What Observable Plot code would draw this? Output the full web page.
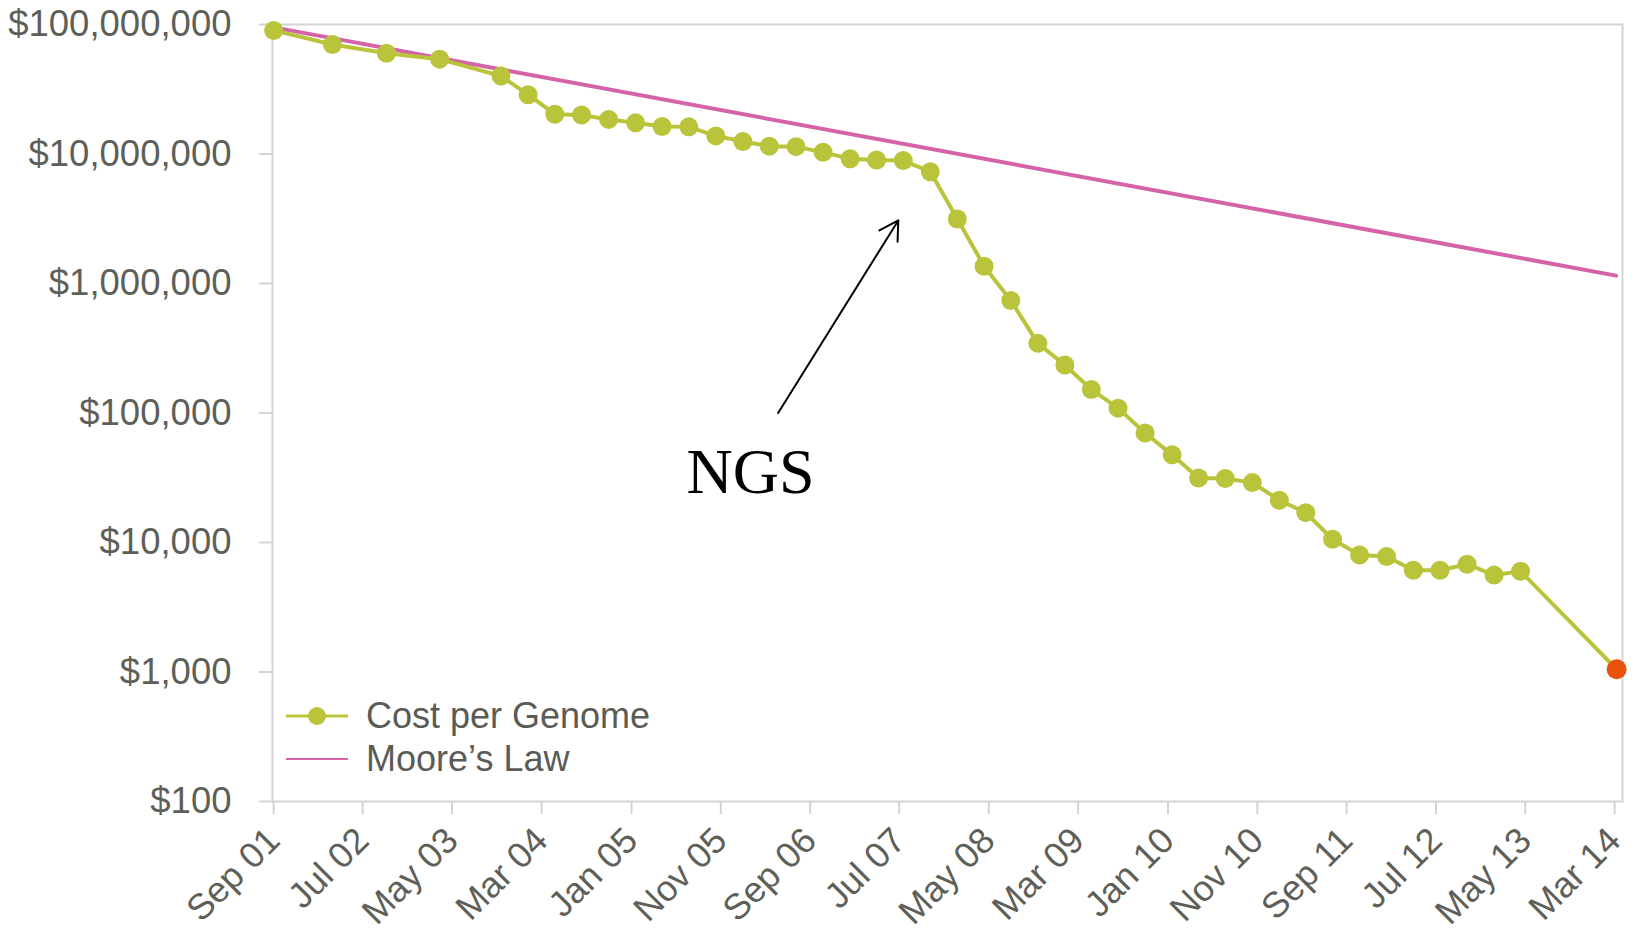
<!DOCTYPE html>
<html>
<head>
<meta charset="utf-8">
<script src="https://cdn.jsdelivr.net/npm/d3@7"></script>
<script src="https://cdn.jsdelivr.net/npm/@observablehq/plot@0.6"></script>
<style>
  html, body { margin: 0; padding: 0; background: #fff; }
  #wrap { position: relative; width: 1645px; height: 932px; }
  #wrap svg { display: block; }
  g[aria-label="y-axis tick"], g[aria-label="x-axis tick"] { stroke: #d4d4d0; stroke-width: 2px; }
  .legend { position: absolute; left: 286px; top: 694px; font-family: "Liberation Sans", Arial, sans-serif; font-size: 36px; color: #5b5b56; }
  .legend .row { display: flex; align-items: center; height: 43px; }
  .legend svg { margin-right: 18px; }
</style>
</head>
<body>
<div id="wrap"></div>
<script>
// ---- data ----
const costDates = [
  "2001-09-01","2002-03-20","2002-09-20","2003-03-20","2003-10-15",
  "2004-01-15","2004-04-15","2004-07-15","2004-10-15",
  "2005-01-15","2005-04-15","2005-07-15","2005-10-15",
  "2006-01-15","2006-04-15","2006-07-15","2006-10-15",
  "2007-01-15","2007-04-15","2007-07-15","2007-10-15",
  "2008-01-15","2008-04-15","2008-07-15","2008-10-15",
  "2009-01-15","2009-04-15","2009-07-15","2009-10-15",
  "2010-01-15","2010-04-15","2010-07-15","2010-10-15",
  "2011-01-15","2011-04-15","2011-07-15","2011-10-15",
  "2012-01-15","2012-04-15","2012-07-15","2012-10-15",
  "2013-01-15","2013-04-15","2014-03-08"
];
const costValues = [
  90000000, 70000000, 60000000, 54000000, 40000000,
  28700000, 20300000, 20000000, 18500000,
  17400000, 16300000, 16200000, 13800000,
  12500000, 11500000, 11400000, 10300000,
  9200000, 9000000, 8900000, 7300000,
  3150000, 1360000, 740000, 345000,
  235000, 152000, 109000, 70000,
  47500, 31500, 31200, 29000,
  21200, 17000, 10600, 8000,
  7800, 6100, 6100, 6800,
  5600, 6000, 1050
];
const mooreDates = ["2001-09-01", "2014-03-06"];
const mooreValues = [95000000, 1150000];

const yTicks = [100, 1000, 10000, 100000, 1000000, 10000000, 100000000];
const xTickDates = ["2001-09-01","2002-07-01","2003-05-01","2004-03-01","2005-01-01","2005-11-01",
  "2006-09-01","2007-07-01","2008-05-01","2009-03-01","2010-01-01","2010-11-01",
  "2011-09-01","2012-07-01","2013-05-01","2014-03-01"];
const xTickLabels = ["Sep 01","Jul 02","May 03","Mar 04","Jan 05","Nov 05","Sep 06","Jul 07",
  "May 08","Mar 09","Jan 10","Nov 10","Sep 11","Jul 12","May 13","Mar 14"];

const seriesNames = ["Cost per Genome", "Moore\u2019s Law"];
const ngsLabel = "NGS";
const ngsTextAt = ["2006-02-10", 34500];
const ngsArrowFrom = ["2006-05-15", 100000];
const ngsArrowTo = ["2007-06-28", 3070000];

// ---- styles ----
const green = "#bac43b";
const pink = "#d463a8";
const red = "#e8520c";
const textGray = "#5f5f5a";

// ---- tables ----
const cost = costDates.map((d, i) => ({date: new Date(d), value: costValues[i]}));
const moore = mooreDates.map((d, i) => ({date: new Date(d), value: mooreValues[i]}));
const lastPoint = [cost[cost.length - 1]];
const tickDates = xTickDates.map(d => new Date(d));
const labelByTime = new Map(tickDates.map((d, i) => [+d, xTickLabels[i]]));

const chart = Plot.plot({
  width: 1645,
  height: 932,
  marginLeft: 272,
  marginTop: 24,
  marginRight: 23,
  marginBottom: 131,
  style: {fontFamily: "'Liberation Sans', Arial, sans-serif", background: "#fff"},
  x: {type: "utc", domain: [new Date("2001-08-28"), new Date("2014-03-28")]},
  y: {type: "log", domain: [100, 100000000]},
  marks: [
    Plot.frame({stroke: "#d4d4d0", strokeWidth: 2}),
    Plot.axisY({ticks: yTicks, tickFormat: d3.format("$,"), tickSize: 13, tickPadding: 28,
      fontSize: 36.5, color: textGray, label: null}),
    Plot.axisX({ticks: tickDates, tickFormat: d => labelByTime.get(+d), tickSize: 13,
      tickPadding: 20, tickRotate: -45, fontSize: 36, color: textGray, label: null}),
    Plot.line(moore, {x: "date", y: "value", stroke: pink, strokeWidth: 4}),
    Plot.line(cost, {x: "date", y: "value", stroke: green, strokeWidth: 4}),
    Plot.dot(cost, {x: "date", y: "value", r: 9.5, fill: green}),
    Plot.dot(lastPoint, {x: "date", y: "value", r: 10, fill: red}),
    Plot.arrow([{x1: new Date(ngsArrowFrom[0]), y1: ngsArrowFrom[1], x2: new Date(ngsArrowTo[0]), y2: ngsArrowTo[1]}],
      {x1: "x1", y1: "y1", x2: "x2", y2: "y2", stroke: "#000", strokeWidth: 2, headLength: 16, bend: 0}),
    Plot.text([{x: new Date(ngsTextAt[0]), y: ngsTextAt[1], t: ngsLabel}],
      {x: "x", y: "y", text: "t", fontSize: 64, fontFamily: "'Liberation Serif', 'Times New Roman', serif", fill: "#000"})
  ]
});

const wrap = document.getElementById("wrap");
wrap.appendChild(chart);

// legend (HTML, overlaid inside the plot frame)
const legend = document.createElement("div");
legend.className = "legend";
legend.innerHTML = `
  <div class="row"><svg width="62" height="24"><line x1="0" y1="12" x2="62" y2="12" stroke="${green}" stroke-width="3"/><circle cx="31" cy="12" r="9" fill="${green}"/></svg><span>${seriesNames[0]}</span></div>
  <div class="row"><svg width="62" height="24"><line x1="0" y1="12" x2="62" y2="12" stroke="${pink}" stroke-width="2"/></svg><span>${seriesNames[1]}</span></div>`;
wrap.appendChild(legend);
</script>
</body>
</html>
